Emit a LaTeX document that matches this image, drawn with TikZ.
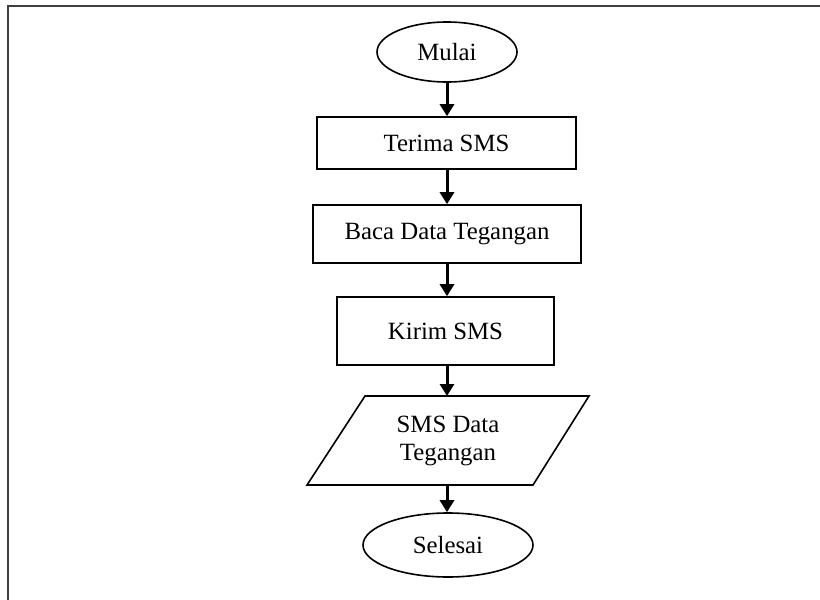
\documentclass[tikz,border=0pt]{standalone}
\usepackage{fontspec}
\setmainfont{Liberation Serif}
\usetikzlibrary{arrows.meta,shapes.geometric}
\begin{document}
\begin{tikzpicture}[x=0.5pt,y=-0.5pt,
  every node/.style={font=\fontsize{12.4}{14}\selectfont, inner sep=0pt},
  term/.style={ellipse, draw, line width=0.8pt},
  proc/.style={rectangle, draw, line width=0.8pt},
  flow/.style={line width=1.5pt, -{Triangle[length=6pt,width=7pt]}},
  frame/.style={draw=black!75, line width=1.1pt}]
\useasboundingbox (0,0) rectangle (820,600);
\draw[frame] (8,600) -- (8,6) -- (820,6);
\node[term, minimum width=70pt, minimum height=30pt] (mulai) at (447,52) {Mulai};
\node[proc, minimum width=129.5pt, minimum height=26pt] (terima) at (446.5,143) {Terima SMS};
\node[proc, minimum width=134pt, minimum height=29pt] (baca) at (447,234) {Baca Data Tegangan};
\node[proc, minimum width=108.5pt, minimum height=34pt] (kirim) at (445.5,331) {Kirim SMS};
\node[align=center] (sms) at (448,440.5) {SMS Data\\Tegangan};
\coordinate (smsN) at (447,396);
\coordinate (smsS) at (447,485);
\draw[line width=0.8pt] (365,396) -- (589,396) -- (533,485) -- (307,485) -- cycle;
\node[term, minimum width=85pt, minimum height=32pt] (selesai) at (448,545) {Selesai};
\draw[flow] (mulai.south) -- (mulai.south |- terima.north);
\draw[flow] (mulai.south |- terima.south) -- (mulai.south |- baca.north);
\draw[flow] (mulai.south |- baca.south) -- (mulai.south |- kirim.north);
\draw[flow] (mulai.south |- kirim.south) -- (smsN);
\draw[flow] (smsS) -- (smsS |- selesai.north);
\end{tikzpicture}
\end{document}
